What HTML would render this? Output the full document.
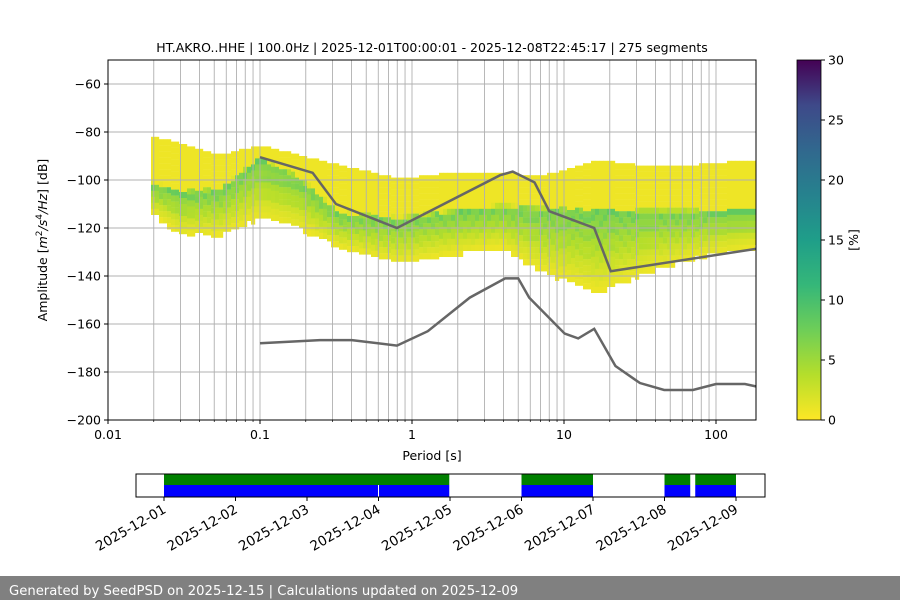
<!DOCTYPE html>
<html><head><meta charset="utf-8"><style>
body{margin:0;background:#fff;font-family:"DejaVu Sans","Liberation Sans",sans-serif;}
#wrap{position:relative;width:900px;height:600px;overflow:hidden;}
</style></head><body><div id="wrap">
<svg id="svg" width="900" height="600" xmlns="http://www.w3.org/2000/svg" font-family="DejaVu Sans, Liberation Sans, sans-serif" font-size="12.5">
<defs><clipPath id="clip"><rect x="108" y="60" width="648" height="360"/></clipPath>
<linearGradient id="cbg" x1="0" y1="1" x2="0" y2="0">
<stop offset="0" stop-color="#fde725"/><stop offset="0.125" stop-color="#b5de2b"/><stop offset="0.25" stop-color="#6ece58"/><stop offset="0.375" stop-color="#35b779"/><stop offset="0.5" stop-color="#1f9e89"/><stop offset="0.625" stop-color="#26828e"/><stop offset="0.75" stop-color="#31688e"/><stop offset="0.875" stop-color="#3e4989"/><stop offset="1" stop-color="#440154"/></linearGradient></defs>
<text x="432" y="52" text-anchor="middle">HT.AKRO..HHE | 100.0Hz | 2025-12-01T00:00:01 - 2025-12-08T22:45:17 | 275 segments</text>
<g id="hist" clip-path="url(#clip)"></g>
<g id="grid"></g>
<g id="lines" clip-path="url(#clip)"></g>
<rect x="108" y="60" width="648" height="360" fill="none" stroke="#000" stroke-width="1"/>
<g id="axes"></g>
<text x="432" y="460" text-anchor="middle">Period [s]</text>
<text transform="translate(47,240) rotate(-90)" text-anchor="middle">Amplitude [<tspan font-style="italic">m</tspan><tspan font-size="9" dy="-5">2</tspan><tspan dy="5" font-style="italic">/s</tspan><tspan font-size="9" dy="-5">4</tspan><tspan dy="5" font-style="italic">/Hz</tspan>] [dB]</text>
<rect x="797" y="60" width="24" height="360" fill="url(#cbg)" stroke="#000" stroke-width="0.8"/>
<g id="cbticks"></g>
<text transform="translate(858,240) rotate(-90)" text-anchor="middle">[%]</text>
<g id="timeline"></g>
<rect x="0" y="576" width="900" height="24" fill="#808080"/>
<text x="9" y="595" fill="#fff" font-size="13.2">Generated by SeedPSD on 2025-12-15 | Calculations updated on 2025-12-09</text>
</svg></div>
<script>
// ---- data ----
const bandPeriods=[0.019,0.03,0.055,0.1,0.18,0.33,0.83,1.5,3.8,7,17,37,79,183];
const bandUpper=[-82,-85,-90,-86,-90,-94,-100,-98,-97,-99,-92,-95,-94,-92];
const bandLower=[-112,-122,-122,-115,-119,-127,-134,-131,-127,-137,-146,-137,-131,-127];
const bandMode=[-100,-104,-103,-90,-98,-113,-115,-113,-110,-111,-112,-112,-112,-112];
const highPeriods=[0.1,0.222,0.316,0.796,3.8,4.6,6.4,8.0,15.8,20.3,183];
const highDb=[-90.5,-97,-110,-120,-98,-96.5,-101,-113,-120,-138,-128.7];
const lowPeriods=[0.1,0.248,0.402,0.796,1.27,2.4,4.1,5.0,5.9,8.0,10.1,12.4,15.8,21.8,31.6,45.6,70.5,100,155,183];
const lowDb=[-168,-166.7,-166.7,-169,-163,-149,-141,-141,-149,-157.5,-164,-166,-162,-177.5,-184.6,-187.5,-187.5,-185,-185,-186];
const yTicks=[-60,-80,-100,-120,-140,-160,-180,-200];
const xTickVals=[0.01,0.1,1,10,100];
const xTickLabels=["0.01","0.1","1","10","100"];
const cbTicks=[0,5,10,15,20,25,30];
const dayLabels=["2025-12-01","2025-12-02","2025-12-03","2025-12-04","2025-12-05","2025-12-06","2025-12-07","2025-12-08","2025-12-09"];
const coverStart=[0,5,7,7.43];
const coverEnd=[3.99,6,7.36,8];
const gapDays=[3.0];
// ---- axes ----
const NS="http://www.w3.org/2000/svg";
const X=p=>108+152*(Math.log10(p)+2);
const Y=d=>60+(-50-d)*2.4;
const D=t=>164+71.5*t;
function mk(tag,at,parent){const e=document.createElementNS(NS,tag);for(const k in at)e.setAttribute(k,at[k]);parent.appendChild(e);return e;}
const interp=(xs,ys,x)=>{const lx=Math.log10(x);for(let i=0;i<xs.length-1;i++){const a=Math.log10(xs[i]),b=Math.log10(xs[i+1]);if(lx>=a&&lx<=b){return ys[i]+(ys[i+1]-ys[i])*(lx-a)/(b-a);}}return lx<Math.log10(xs[0])?ys[0]:ys[ys.length-1];};
const vir=[[253,231,37],[181,222,43],[110,206,88],[53,183,121],[31,158,137],[38,130,142],[49,104,142],[62,73,137],[68,1,84]];
function cmap(p){let t=Math.max(0,Math.min(1,p/30))*8;const i=Math.min(7,Math.floor(t));const f=t-i;const c=vir[i].map((v,k)=>Math.round(v+(vir[i+1][k]-v)*f));return `rgb(${c})`;}
// histogram
const hist=document.getElementById('hist');
let k=0;
for(let x=151;x<756;x+=4){
  const p=Math.pow(10,(x+2-108)/152-2);
  const up=interp(bandPeriods,bandUpper,p),lo=interp(bandPeriods,bandLower,p),mo=interp(bandPeriods,bandMode,p);
  for(let d=Math.ceil(up);d>lo;d-=2.5){
    k++;
    const hw=d>mo?(mo-up):(mo-lo);
    const t=Math.max(0,1-Math.abs(d-mo)/Math.max(hw,1));
    const pct=0.8+6*Math.pow(t,1.2)+((k%3)===0?1.5*t:0);
    const r=mk('rect',{x:x,y:Y(d),width:4.2,height:6.2,fill:cmap(pct)},hist);
    
    
  }
}
// grid
const grid=document.getElementById('grid');
for(let e=-2;e<=2;e++)for(let m=1;m<=9;m++){const v=m*Math.pow(10,e);if(v<0.02||v>183)continue;const g=mk('line',{x1:X(v),x2:X(v),y1:60,y2:420,stroke:'#b0b0b0','stroke-width':0.9},grid);
}
const axes=document.getElementById('axes');
yTicks.forEach(v=>{const g=mk('line',{x1:108,x2:756,y1:Y(v),y2:Y(v),stroke:'#b0b0b0','stroke-width':0.9},grid);

mk('line',{x1:104,x2:108,y1:Y(v),y2:Y(v),stroke:'#000'},axes);
const t=mk('text',{x:101,y:Y(v)+4.5,'text-anchor':'end'},axes);t.textContent='\u2212'+Math.abs(v);
});
xTickVals.forEach((v,i)=>{mk('line',{x1:X(v),x2:X(v),y1:420,y2:424,stroke:'#000'},axes);
const t=mk('text',{x:X(v),y:439,'text-anchor':'middle'},axes);t.textContent=xTickLabels[i];
});
for(let e=-2;e<=2;e++)for(let m=2;m<=9;m++){const v=m*Math.pow(10,e);if(v>183)continue;mk('line',{x1:X(v),x2:X(v),y1:420,y2:422,stroke:'#000','stroke-width':0.7},axes);}
// noise models
const lines=document.getElementById('lines');
const hp=mk('polyline',{points:highPeriods.map((p,i)=>X(p)+','+Y(highDb[i])).join(' '),fill:'none',stroke:'#666','stroke-width':2.5},lines);

const lp=mk('polyline',{points:lowPeriods.map((p,i)=>X(p)+','+Y(lowDb[i])).join(' '),fill:'none',stroke:'#666','stroke-width':2.5},lines);

// colorbar ticks
const cbt=document.getElementById('cbticks');
cbTicks.forEach(v=>{const y=420-v*12;mk('line',{x1:821,x2:825,y1:y,y2:y,stroke:'#000'},cbt);
const t=mk('text',{x:828,y:y+4.5},cbt);t.textContent=v;});
// timeline
const tl=document.getElementById('timeline');
coverStart.forEach((s,i)=>{const g=mk('rect',{x:D(s),y:474,width:D(coverEnd[i])-D(s),height:11,fill:'#008000'},tl);

const b=mk('rect',{x:D(s),y:485,width:D(coverEnd[i])-D(s),height:12,fill:'#0000ff'},tl);
});
gapDays.forEach(d=>{mk('line',{x1:D(d),x2:D(d),y1:485,y2:497,stroke:'#fff','stroke-width':1},tl);});
const fr=mk('rect',{x:136,y:474,width:629,height:23,fill:'none',stroke:'#000','stroke-width':1},tl);

dayLabels.forEach((l,i)=>{const x=D(i);mk('line',{x1:x,x2:x,y1:497,y2:501,stroke:'#000'},tl);
const t=mk('text',{x:x+3,y:512,'text-anchor':'end','font-size':'13.5',transform:`rotate(-30 ${x+3} 512)`},tl);t.textContent=l;
});
</script></body></html>
